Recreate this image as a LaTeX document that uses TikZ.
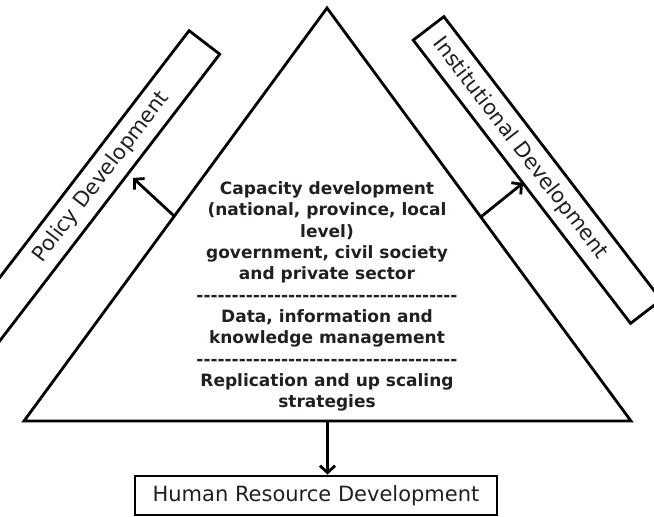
\documentclass[tikz,border=0pt]{standalone}
\usepackage{fontspec}
\setmainfont{DejaVu Sans}
\usetikzlibrary{arrows.meta,calc}
\definecolor{ink}{RGB}{35,31,32}
\newcommand\dashrow{\foreach \i in {1,...,37}{-\kern0pt}}
\begin{document}
\begin{tikzpicture}[x=1pt,y=1pt,
  edge/.style={line width=2.8pt, draw=black},
  boxlbl/.style={line width=2.8pt, draw=black, inner sep=0pt, minimum height=38.6pt},
  txt/.style={font=\fontsize{21}{25}\selectfont, text=ink, inner sep=0pt},
  arr/.style={line width=2.8pt, -{Straight Barb[length=7pt,width=15pt,line width=2.8pt]}}
]
\useasboundingbox (0,0) rectangle (654,517);
\clip (0,0) rectangle (654,517);
\coordinate (A) at (327,509);
\coordinate (B) at (24,96);
\coordinate (C) at (631,96);
\draw[edge, line join=miter] (A) -- (B) -- (C) -- cycle;

\node[boxlbl, minimum width=370pt, rotate=52.5] (pbox) at (91.8,327.8) {};
\node[txt, rotate=52.5] (ptext) at (101.5,340) {Policy Development};

\node[boxlbl, minimum width=357pt, rotate=-52.5] (ibox) at (537.2,347) {};
\node[txt, rotate=-52.5] (itext) at (520,368.5) {Institutional Development};

\node[boxlbl, minimum width=362pt, minimum height=39pt, txt, inner sep=0pt] (hrd) at (316,21.5) {Human Resource Development};

\node[font=\bfseries\fontsize{17}{21.3}\selectfont, text=ink, align=center, inner sep=0pt] (core) at (327,220.5)
{Capacity development\\(national, province, local\\level)\\government, civil society\\and private sector\\\dashrow\\Data, information and\\knowledge management\\\dashrow\\Replication and up scaling\\strategies};

\coordinate (pl) at ($(A)!0.504!(B)$);
\coordinate (ptip) at (133,339);
\draw[arr] (pl) -- (ptip);
\coordinate (pr) at ($(A)!0.506!(C)$);
\coordinate (rtip) at (523,334);
\draw[arr] (pr) -- (rtip);
\coordinate (bm) at ($(B)!0.5!(C)$);
\draw[arr] (bm) -- (bm |- hrd.north);
\end{tikzpicture}
\end{document}
